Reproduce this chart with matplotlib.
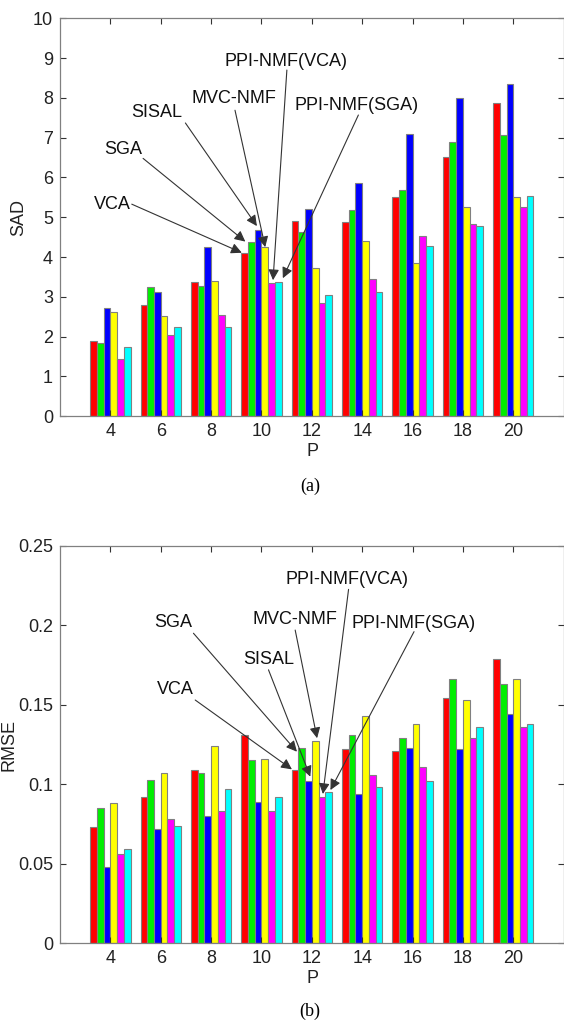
"""
plot.py
-------
Grouped bar charts of SAD and RMSE versus the number of endmembers P
for six unmixing methods, stacked as panels (a) and (b).
"""

import matplotlib

matplotlib.use("Agg")
import matplotlib.pyplot as plt
import numpy as np

P = [4, 6, 8, 10, 12, 14, 16, 18, 20]
methods = ["VCA", "SGA", "SISAL", "MVC-NMF", "PPI-NMF(VCA)", "PPI-NMF(SGA)"]
colors = ["#ff0000", "#00ee00", "#0000ff", "#ffff00", "#ff00ff", "#00ffff"]

sad_vca = [1.90, 2.80, 3.38, 4.10, 4.91, 4.88, 5.52, 6.52, 7.87]
sad_sga = [1.83, 3.24, 3.27, 4.37, 4.63, 5.18, 5.68, 6.88, 7.07]
sad_sisal = [2.71, 3.12, 4.26, 4.69, 5.22, 5.87, 7.09, 7.99, 8.35]
sad_mvc = [2.63, 2.52, 3.41, 4.25, 3.73, 4.41, 3.86, 5.26, 5.51]
sad_ppi_vca = [1.45, 2.04, 2.55, 3.34, 2.84, 3.46, 4.54, 4.84, 5.25]
sad_ppi_sga = [1.75, 2.24, 2.24, 3.38, 3.05, 3.13, 4.29, 4.79, 5.54]

rmse_vca = [0.073, 0.092, 0.109, 0.131, 0.109, 0.122, 0.121, 0.154, 0.179]
rmse_sga = [0.085, 0.103, 0.107, 0.115, 0.123, 0.131, 0.129, 0.166, 0.163]
rmse_sisal = [0.048, 0.072, 0.080, 0.089, 0.102, 0.094, 0.123, 0.122, 0.144]
rmse_mvc = [0.088, 0.107, 0.124, 0.116, 0.127, 0.143, 0.138, 0.153, 0.166]
rmse_ppi_vca = [0.056, 0.078, 0.083, 0.083, 0.092, 0.106, 0.111, 0.129, 0.136]
rmse_ppi_sga = [0.059, 0.074, 0.097, 0.092, 0.095, 0.098, 0.102, 0.136, 0.138]

sad_yticks = [0, 1, 2, 3, 4, 5, 6, 7, 8, 9, 10]
sad_yticklabels = ["0", "1", "2", "3", "4", "5", "6", "7", "8", "9", "10"]
rmse_yticks = [0, 0.05, 0.1, 0.15, 0.2, 0.25]
rmse_yticklabels = ["0", "0.05", "0.1", "0.15", "0.2", "0.25"]

# label text position, arrow start, arrow tip (data coords)
sad_notes = [
    ("VCA", (4.06, 5.33), (4.85, 5.33), (9.22, 4.11)),
    ("SGA", (4.52, 6.71), (5.30, 6.48), (9.36, 4.39)),
    ("SISAL", (5.84, 7.63), (6.98, 7.37), (9.82, 4.78)),
    ("MVC-NMF", (8.89, 7.99), (8.95, 7.69), (10.15, 4.25)),
    ("PPI-NMF(VCA)", (10.99, 8.91), (11.01, 8.70), (10.46, 3.42)),
    ("PPI-NMF(SGA)", (13.77, 7.80), (13.85, 7.57), (10.85, 3.47)),
]
rmse_notes = [
    ("VCA", (6.57, 0.1597), (7.37, 0.153), (11.21, 0.1094)),
    ("SGA", (6.51, 0.2016), (7.30, 0.195), (11.41, 0.1205)),
    ("SISAL", (10.28, 0.1786), (10.28, 0.172), (11.94, 0.1048)),
    ("MVC-NMF", (11.34, 0.2038), (11.34, 0.197), (12.21, 0.129)),
    ("PPI-NMF(VCA)", (13.41, 0.2285), (13.46, 0.2226), (12.44, 0.0939)),
    ("PPI-NMF(SGA)", (16.06, 0.2013), (16.06, 0.196), (12.74, 0.0964)),
]

SANS = ["Liberation Sans", "DejaVu Sans"]
SERIF = ["Liberation Serif", "DejaVu Serif"]
FS = 13


def plot_panel(ax, series, yticks, yticklabels, notes):
    """Draw one grouped bar panel with its arrow labels."""
    x = np.array(P, dtype=float)
    n = len(series)
    width = 1.6 / n
    for i, vals in enumerate(series):
        offset = (i - (n - 1) / 2) * width
        ax.bar(x + offset, vals, width=width, color=colors[i],
               edgecolor="#808080", linewidth=0.8, label=methods[i], zorder=1)

    ax.set_xlim(2, 22)
    ax.set_ylim(yticks[0], yticks[-1])
    ax.set_xticks(P)
    ax.set_xticklabels([str(p) for p in P])
    ax.set_yticks(yticks)
    ax.set_yticklabels(yticklabels)
    ax.tick_params(direction="in", length=4, width=0.8, color="#333333",
                   top=True, right=True, labelsize=FS, labelcolor="#222222",
                   pad=5)
    for lab in ax.get_xticklabels() + ax.get_yticklabels():
        lab.set_family(SANS)
    for sp in ax.spines.values():
        sp.set_color("#808080")
        sp.set_linewidth(0.9)

    for text, pos, start, tip in notes:
        ax.text(pos[0], pos[1], text, ha="center", va="center",
                fontsize=FS, family=SANS, color="#111111")
        ax.annotate("", xy=tip, xytext=start,
                    arrowprops=dict(arrowstyle="-|>", color="#333333",
                                    lw=0.8, mutation_scale=16,
                                    shrinkA=0, shrinkB=0))


fig = plt.figure(figsize=(5.64, 10.21), dpi=100)
W, H = 564.0, 1021.0

ax1 = fig.add_axes([60 / W, (H - 416.3) / H, 503.6 / W, 398.0 / H])
plot_panel(ax1, [sad_vca, sad_sga, sad_sisal, sad_mvc, sad_ppi_vca, sad_ppi_sga],
           sad_yticks, sad_yticklabels, sad_notes)

ax2 = fig.add_axes([60 / W, (H - 943.3) / H, 503.6 / W, 397.5 / H])
plot_panel(ax2, [rmse_vca, rmse_sga, rmse_sisal, rmse_mvc, rmse_ppi_vca, rmse_ppi_sga],
           rmse_yticks, rmse_yticklabels, rmse_notes)

# axis labels and panel captions
fig.text(313 / W, 1 - 451.7 / H, "P", ha="center", va="center",
         fontsize=FS, family=SANS, color="#222222")
fig.text(313 / W, 1 - 978 / H, "P", ha="center", va="center",
         fontsize=FS, family=SANS, color="#222222")
fig.text(18.7 / W, 1 - 217 / H, "SAD", ha="center", va="center",
         rotation=90, fontsize=FS, family=SANS, color="#222222")
fig.text(9 / W, 1 - 745 / H, "RMSE", ha="center", va="center",
         rotation=90, fontsize=FS, family=SANS, color="#222222")
fig.text(310 / W, 1 - 486.7 / H, "(a)", ha="center", va="center",
         fontsize=13, family=SERIF, color="black")
fig.text(310 / W, 1 - 1011.7 / H, "(b)", ha="center", va="center",
         fontsize=13, family=SERIF, color="black")

fig.savefig("out.png", dpi=100)
plt.close(fig)
